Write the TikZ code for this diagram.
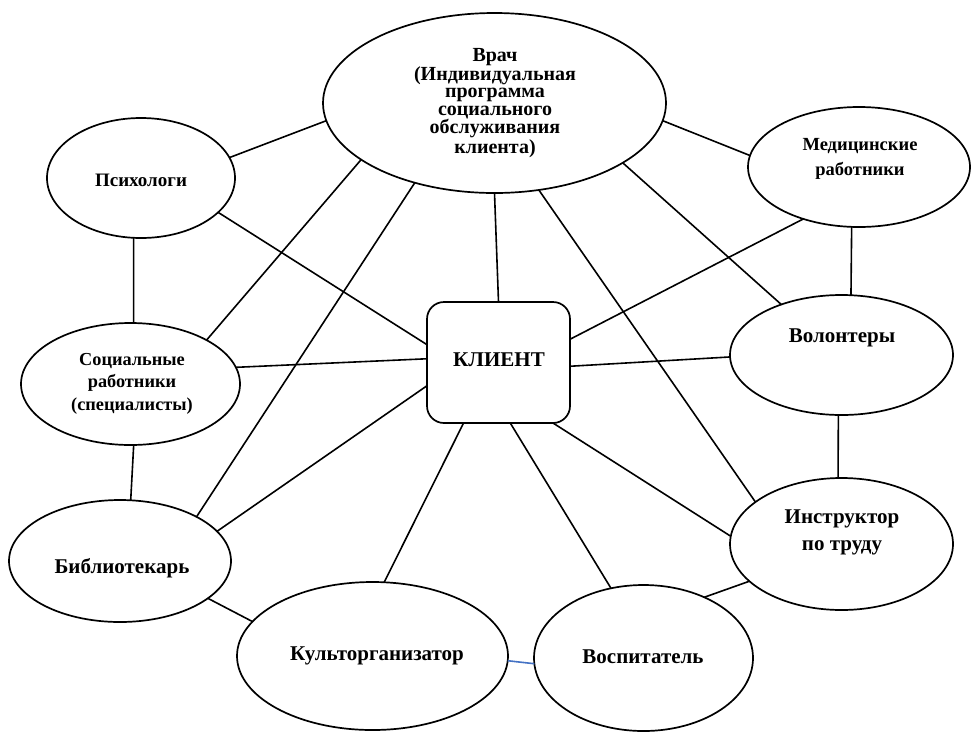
\documentclass[tikz,border=0pt]{standalone}
\usepackage{fontspec}
\setmainfont{Liberation Serif}
\usetikzlibrary{shapes.geometric}
\definecolor{linkblue}{HTML}{4472C4}
\begin{document}
\begin{tikzpicture}[x=1pt,y=-1pt,
  ell/.style={draw,ellipse,line width=1.7pt,inner sep=0pt,outer sep=0pt},
  box/.style={draw,rectangle,rounded corners=17pt,line width=1.7pt,inner sep=0pt,outer sep=0pt,minimum width=143pt,minimum height=121pt},
  lbl/.style n args={2}{anchor=base,align=center,inner sep=0pt,font=\fontsize{#1}{#2}\selectfont\bfseries},
  link/.style={line width=1.6pt}
]
\useasboundingbox (0,0) rectangle (971,732);

% shapes
\node[ell,minimum width=343pt,minimum height=180pt] (vrach) at (494.5,103) {};
\node[ell,minimum width=188pt,minimum height=120pt] (psych) at (141,178) {};
\node[ell,minimum width=222pt,minimum height=120pt] (med) at (859,167) {};
\node[ell,minimum width=219pt,minimum height=122pt] (soc) at (130.5,384) {};
\node[ell,minimum width=223pt,minimum height=120pt] (vol) at (841.5,355) {};
\node[ell,minimum width=222pt,minimum height=122pt] (bib) at (120,561) {};
\node[box] (klient) at (498.5,362.5) {};
\node[ell,minimum width=223pt,minimum height=132pt] (instr) at (841.5,544) {};
\node[ell,minimum width=271pt,minimum height=148pt] (kult) at (372.5,656) {};
\node[ell,minimum width=219pt,minimum height=146pt] (vosp) at (643.5,658) {};

% texts
\node[lbl={20}{17.4}] (tvrach) at (495,153) {Врач\\(Индивидуальная\\программа\\социального\\обслуживания\\клиента)};
\node[lbl={19}{19}] (tpsych) at (141,186) {Психологи};
\node[lbl={18.5}{25}] (tmed) at (860,175) {Медицинские\\работники};
\node[lbl={18.3}{22.5}] (tsoc) at (132,410) {Социальные\\работники\\(специалисты)};
\node[lbl={21}{21}] (tvol) at (842,342) {Волонтеры};
\node[lbl={21}{21}] (tklient) at (499,366) {КЛИЕНТ};
\node[lbl={21}{21}] (tbib) at (122,573) {Библиотекарь};
\node[lbl={21}{27}] (tinstr) at (842,550) {Инструктор\\по труду};
\node[lbl={21}{21}] (tkult) at (377,660) {Культорганизатор};
\node[lbl={21}{21}] (tvosp) at (643,663) {Воспитатель};

% connectors
\draw[link] (vrach.186.7) -- (psych.13);
\draw[link] (vrach.-6.5) -- (med.174.2);
\draw[link] (vrach.south) -- (klient.north);
\draw[link] (vrach.203.8) -- (soc.30.7);
\draw[link] (vrach.225.2) -- (bib.30.9);
\draw[link] (vrach.-63.7) -- (instr.154);
\draw[link] (vrach.-25.8) -- (vol.140.6);
\draw[link] (psych.-97.4) -- (soc.87.7);
\draw[link] (soc.-87.7) -- (bib.80);
\draw[link] (psych.-24.5) -- (klient.166.2);
\draw[link] (soc.9.3) -- (klient.177);
\draw[link] (bib.17.3) -- (klient.198.9);
\draw[link] (med.223.4) -- (klient.18.9);
\draw[link] (vol.181) -- (klient.-3.6);
\draw[link] (instr.176.9) -- (klient.-48.5);
\draw[link] (kult.81.9) -- (klient.240.7);
\draw[link] (vosp.115.8) -- (klient.-79.4);
\draw[link] (med.-97.6) -- (vol.81);
\draw[link] (vol.-93.3) -- (instr.93);
\draw[link] (instr.202.9) -- (vosp.45.5);
\draw[link] (bib.-23.6) -- (kult.164.7);
\draw[link,linkblue] (kult.-2.3) -- (vosp.183.4);
\end{tikzpicture}
\end{document}
